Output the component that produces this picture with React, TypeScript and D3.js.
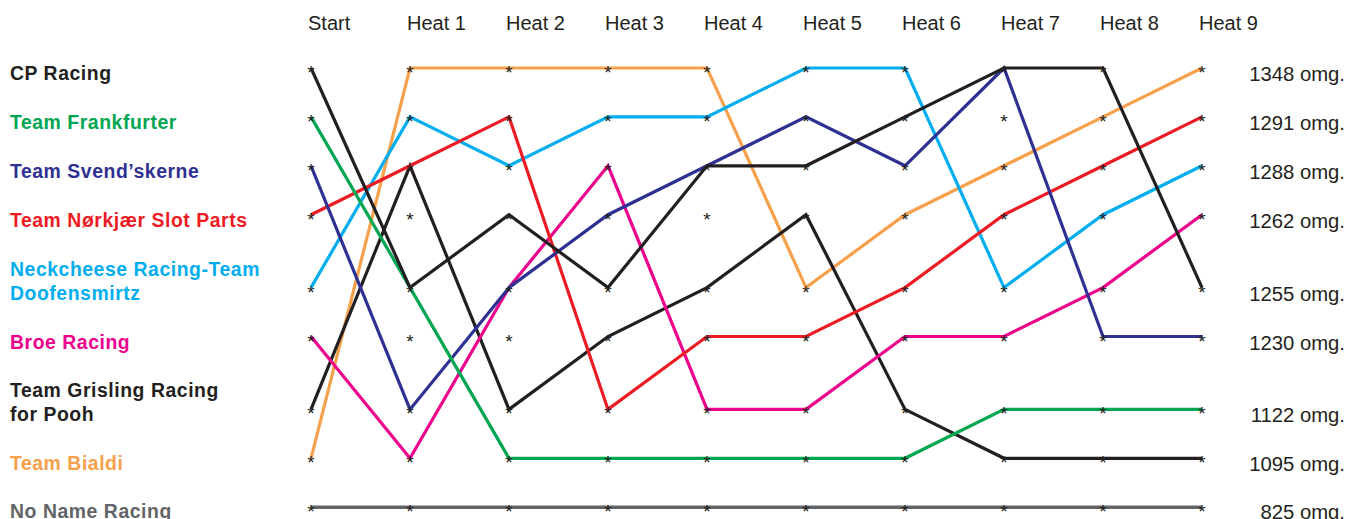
import React from "react";
import * as d3 from "d3";

const columns = ["Start", "Heat 1", "Heat 2", "Heat 3", "Heat 4", "Heat 5", "Heat 6", "Heat 7", "Heat 8", "Heat 9"];

const teamNames = [
  ["CP Racing"],
  ["Team Frankfurter"],
  ["Team Svend\u2019skerne"],
  ["Team Nørkjær Slot Parts"],
  ["Neckcheese Racing-Team", "Doofensmirtz"],
  ["Broe Racing"],
  ["Team Grisling Racing", "for Pooh"],
  ["Team Bialdi"],
  ["No Name Racing"],
];

const teamColors = ["#231f20", "#00a651", "#2e3192", "#ed1c24", "#00aeef", "#ec008c", "#231f20", "#f7a04b", "#636466"];

// rank per column (Start, Heat 1..9)
const cpRacing = [1, 5, 4, 5, 3, 3, 2, 1, 1, 5];
const frankfurter = [2, 5, 8, 8, 8, 8, 8, 7, 7, 7];
const svendskerne = [3, 7, 5, 4, 3, 2, 3, 1, 6, 6];
const norkjaer = [4, 3, 2, 7, 6, 6, 5, 4, 3, 2];
const neckcheese = [5, 2, 3, 2, 2, 1, 1, 5, 4, 3];
const broe = [6, 8, 5, 3, 7, 7, 6, 6, 5, 4];
const grisling = [7, 3, 7, 6, 5, 4, 7, 8, 8, 8];
const bialdi = [8, 1, 1, 1, 1, 5, 4, 3, 2, 1];
const noName = [9, 9, 9, 9, 9, 9, 9, 9, 9, 9];

const series = [cpRacing, frankfurter, svendskerne, norkjaer, neckcheese, broe, grisling, bialdi, noName];

const finalScores = ["1348 omg.", "1291 omg.", "1288 omg.", "1262 omg.", "1255 omg.", "1230 omg.", "1122 omg.", "1095 omg.", "825 omg."];

const W = 1348;
const H = 519;
const FONT = "'Liberation Sans', Arial, Helvetica, sans-serif";

export default function App() {
  const x = d3.scalePoint<string>().domain(columns).range([311, 1202]);

  // row positions: base gap plus extra for each additional label line
  const baseGap = 48.9;
  const lineGap = 24;
  const rowY: number[] = [];
  let cur = 68;
  teamNames.forEach((lines, i) => {
    if (i > 0) cur += baseGap + lineGap * (lines.length - 1);
    rowY.push(cur);
  });
  const ranks = d3.range(1, teamNames.length + 1);
  const y = d3.scaleLinear().domain(ranks).range(rowY);

  const line = d3
    .line<number>()
    .x((_, i) => x(columns[i]) as number)
    .y((r) => y(r));

  const order = d3.range(series.length).reverse();
  const last = teamNames.length;

  return (
    <svg
      width={W}
      height={H}
      style={{ position: "absolute", left: 0, top: 0, display: "block", background: "#fff" }}
      fontFamily={FONT}
    >
      <rect x={0} y={0} width={W} height={H} fill="#fff" />
      {columns.map((c) => (
        <text key={c} x={(x(c) as number) - 3} y={30} fontSize={20} fill="#231f20">
          {c}
        </text>
      ))}
      {teamNames.map((lines, i) => (
        <text key={i} fontSize={19.4} fontWeight="bold" letterSpacing={0.55} fill={teamColors[i]}>
          {lines.map((l, j) => (
            <tspan
              key={j}
              x={10}
              y={y(i + 1) + (i + 1 === last ? 11 : 12) - lineGap * (lines.length - 1 - j)}
            >
              {l}
            </tspan>
          ))}
        </text>
      ))}
      {order.map((i) => (
        <path
          key={i}
          d={line(series[i]) || ""}
          fill="none"
          stroke={teamColors[i]}
          strokeWidth={i === 8 ? 3.5 : 3.2}
          strokeLinejoin="miter"
        />
      ))}
      {columns.map((c) =>
        ranks.map((r) => (
          <text
            key={c + r}
            x={x(c) as number}
            y={y(r) + 11}
            fontSize={19}
            textAnchor="middle"
            fill="#231f20"
          >
            *
          </text>
        ))
      )}
      {finalScores.map((s, i) => (
        <text
          key={s}
          x={1345}
          y={y(i + 1) + (i + 1 === last ? 12 : 13)}
          fontSize={20.3}
          textAnchor="end"
          fill="#231f20"
        >
          {s}
        </text>
      ))}
    </svg>
  );
}
